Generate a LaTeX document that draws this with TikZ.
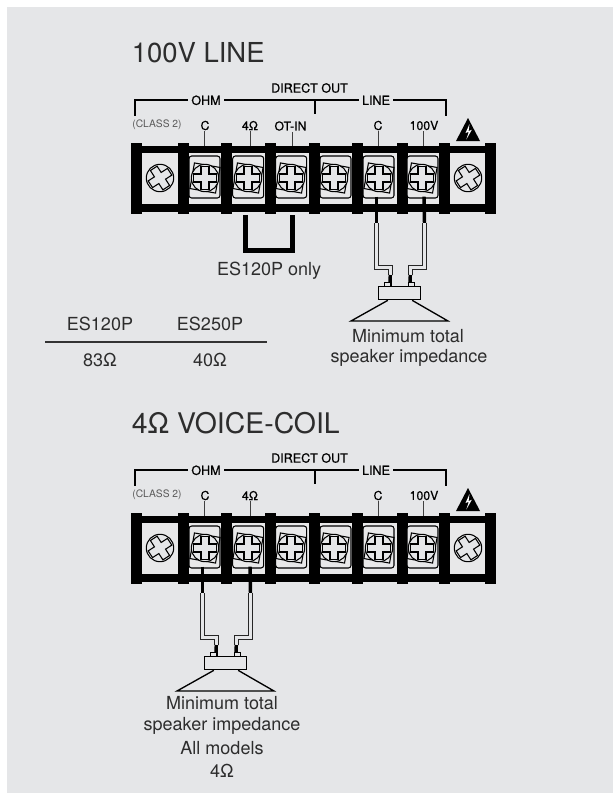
\documentclass[tikz,border=0pt]{standalone}
\usepackage{fontspec}
\setmainfont{TeX Gyre Heros}
\newfontfamily\medfont{TeX Gyre Heros}[FakeBold=0.6]
\usepackage{tikz}

% one terminal screw, #1 x, #2 y, #3 angle
\newcommand{\termscrew}[3]{
	\draw [line width=0.8, fill=panel] (#1,#2) circle [radius=13.7];
	\draw [line width=0.8, fill=panel, rotate around={#3:(#1,#2)}] (#1-11.5,#2-4) -- (#1-4,#2-4) -- (#1-4,#2-11.5) -- (#1+4,#2-11.5) -- (#1+4,#2-4) -- (#1+11.5,#2-4) -- (#1+11.5,#2+4) -- (#1+4,#2+4) -- (#1+4,#2+11.5) -- (#1-4,#2+11.5) -- (#1-4,#2+4) -- (#1-11.5,#2+4) -- cycle ;
}

% terminal strip with brackets, #1 prefix, #2 vertical offset
\newcommand{\termstrip}[2]{
	\begin{scope}[shift={(0,#2)}]
		%Shape: Bands
		\fill [cellfill] (142,153) rectangle (485,204);
		\fill (131,146) rectangle (494,153.3);
		\fill (131,204) rectangle (494,211.7);
		\foreach \px in {131,178,221,265,309,352,397,439,485}{
			\fill (\px,142.7) rectangle (\px+10.5,214);
		}
		%Shape: End cells
		\termscrew{160}{178}{-33}
		\termscrew{468}{178}{-33}
		%Shape: Inner cells
		\foreach \cx/\sx in {189/205,232.7/248,275.7/291,320/334,363/379,407/422}{
			\draw [line width=0.8, rounded corners=2, fill=cellfill] (\cx,156) rectangle (\cx+31,198);
			\draw [line width=0.8, rotate around={10:(\sx,178)}] (\sx-13,165) rectangle (\sx+13,191);
			\termscrew{\sx}{178}{0}
		}
		%Warning triangle
		\fill (468,118) -- (480,141) -- (456,141) -- cycle ;
		\fill [white] (469.5,124) -- (465.5,133) -- (468.8,131.8) -- (466.3,139.5) -- (471.8,129.8) -- (468.6,131) -- cycle ;
		%Brackets
		\node [smalllabel] (#1ohm) at (206,100.3) {OHM};
		\node [smalllabel] (#1line) at (376,100.3) {LINE};
		\node [smalllabel] (#1direct) at (309.5,88) {DIRECT OUT};
		\coordinate (#1brl) at (135,115.5);
		\coordinate (#1brr) at (446,116);
		\coordinate (#1brm) at (315,100.3);
		\draw [bracket] (#1brl) |- (#1ohm.west);
		\draw [bracket] (#1ohm.east) -- (#1line.west);
		\draw [bracket] (#1line.east) -| (#1brr);
		\draw [bracket] (#1brm) -- ++(0,14);
		\node [greylabel] (#1class) at (157,125) {(CLASS 2)};
	\end{scope}
}

% twin lead and speaker, #1 prefix, #2 x offset, #3 y offset
\newcommand{\speakerleads}[3]{
	\begin{scope}[shift={(#2,#3)}]
		\coordinate (#1a) at (376.5,196.7);
		\coordinate (#1b) at (424,196.7);
		\coordinate (#1c) at (376.5,223);
		\coordinate (#1d) at (424.5,223);
		\coordinate (#1e) at (390.3,275);
		\coordinate (#1f) at (410.3,275);
		\node [lug] (#1lugl) at (387.7,284.2) {};
		\node [lug] (#1lugr) at (411.3,284.2) {};
		\node [draw, line width=1, fill=panel, minimum width=31.5, minimum height=10, inner sep=0] (#1body) at (399.5,293) {};
		\coordinate (#1cl) at (351,321);
		\coordinate (#1cr) at (448,321);
		\draw [cone] ($(#1body.south west)+(10,0)$) -- (#1cl) -- (#1cr) -- ($(#1body.south east)+(-9,0)$);
		\draw [blackwire] (#1a) -- (#1c);
		\draw [blackwire] (#1b) -- (#1d);
		\draw [twinwire] (#1c) -- (376.5,267.5) -- (390.3,267.5) -- (#1e);
		\draw [twinwire] (#1d) -- (424.5,267.5) -- (410.3,267.5) -- (#1f);
		\draw [blackwire] (#1e) -- (390,282.3);
		\draw [blackwire] (#1f) -- (410,282.3);
	\end{scope}
}

\usetikzlibrary{calc}
\definecolor{panel}{RGB}{229,230,232}
\definecolor{cellfill}{RGB}{232,232,233}
\definecolor{inktext}{RGB}{45,45,45}

\begin{document}
\begin{tikzpicture}[x=0.75pt,y=0.75pt,yscale=-1,xscale=1,
	every node/.style={inner sep=0.75pt},
	bracket/.style={line width=1.35},
	smalllabel/.style={font=\fontsize{9.4}{11}\medfont, inner xsep=2.4pt},
	greylabel/.style={font=\fontsize{7.7}{9}\selectfont, text=black!65},
	termlabel/.style={font=\fontsize{9.2}{10}\medfont},
	leader/.style={line width=0.6, draw=black!75},
	bodytext/.style={font=\fontsize{13.5}{16}\selectfont, text=inktext},
	titletext/.style={font=\fontsize{20.6}{24}\selectfont, text=inktext, anchor=west},
	lug/.style={draw, line width=0.8, fill=panel, minimum width=4.9, minimum height=2.8, inner sep=0},
	cone/.style={line width=1},
	blackwire/.style={line width=2.6},
	twinwire/.style={line width=0.8, draw=black!85, double=panel, double distance=2.6, miter limit=10},
	jumper/.style={line width=3.7, miter limit=10}]
	\useasboundingbox (0,0) rectangle (613,793);
	%Shape: Rectangle
	\fill [panel] (7,7) rectangle (613,793);

	% Text Node
	\node [titletext] (titleline) at (130.5,53) {100V LINE};
	\node [titletext, font=\fontsize{21.3}{24}\selectfont] (titlecoil) at (130.5,423) {4Ω VOICE-COIL};

	\termstrip{up}{0}
	\termstrip{lo}{370}

	% Upper strip labels
	\node [termlabel] (upc) at (205,125.5) {C};
	\node [termlabel] (upfour) at (250,125.5) {4Ω};
	\node [termlabel] (upot) at (290.5,126) {OT-IN};
	\node [termlabel] (upcc) at (378,125.5) {C};
	\node [termlabel] (uphv) at (424,125.5) {100V};
	\foreach \lbl/\lx in {upc/204,upfour/250,upot/292,upcc/378,uphv/423}{
		\draw [leader] (\lx,0 |- \lbl.south) -- (\lx,146);
	}
	% Lower strip labels
	\node [termlabel] (loc) at (205,495.5) {C};
	\node [termlabel] (lofour) at (250,495.5) {4Ω};
	\node [termlabel] (locc) at (378,495.5) {C};
	\node [termlabel] (lohv) at (424,495.5) {100V};
	\foreach \lbl/\lx in {loc/204,lofour/250,locc/378,lohv/423}{
		\draw [leader] (\lx,0 |- \lbl.south) -- (\lx,516);
	}

	%Jumper
	\coordinate (jumpa) at (245.5,215);
	\coordinate (jumpb) at (292.5,215);
	\draw [jumper] (jumpa) -- (245.5,250.5) -- (292.5,250.5) -- (jumpb);
	\node [bodytext] (jumptext) at (269,271) {ES120P only};

	\speakerleads{spa}{0}{0}
	\speakerleads{spb}{-174}{370}

	% Table
	\node [bodytext] (esa) at (100,324) {ES120P};
	\node [bodytext] (esb) at (210,324) {ES250P};
	\coordinate (rulea) at (45,342);
	\coordinate (ruleb) at (267,342);
	\draw [line width=0.8, draw=black!80] (rulea) -- (ruleb);
	\node [bodytext] (ohma) at (100,360) {83Ω};
	\node [bodytext] (ohmb) at (210,360) {40Ω};

	% Text Node
	\node [bodytext] (minup) at (408,336) {Minimum total};
	\node [bodytext] (spkup) at (409,358) {speaker impedance};
	\node [bodytext] (minlo) at (222,703) {Minimum total};
	\node [bodytext] (spklo) at (222,726) {speaker impedance};
	\node [bodytext] (allmod) at (222,748) {All models};
	\node [bodytext] (fourohm) at (222,771) {4Ω};
\end{tikzpicture}
\end{document}
